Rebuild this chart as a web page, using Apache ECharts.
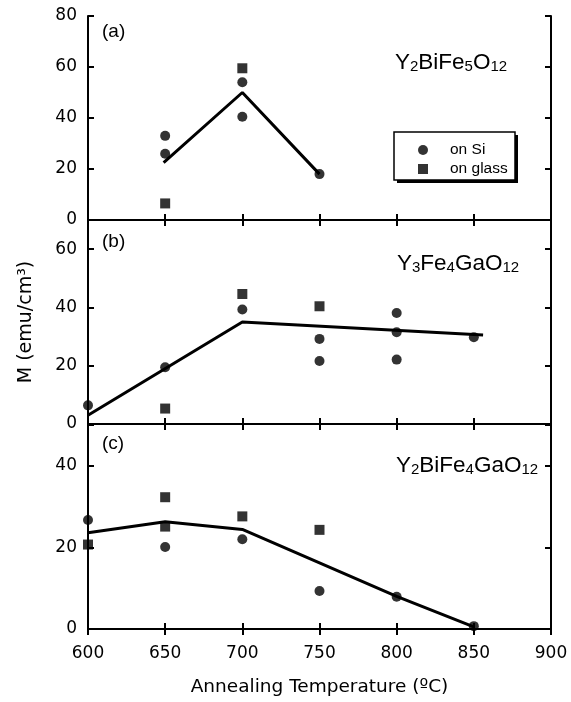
<!DOCTYPE html>
<html><head><meta charset="utf-8">
<script src="https://cdn.jsdelivr.net/npm/echarts@6/dist/echarts.min.js"></script>
<style>html,body{margin:0;padding:0;background:#fff}#c{width:571px;height:702px}</style>
</head><body><div id="c"></div>
<script>
// x ticks
const xTicks = [600, 650, 700, 750, 800, 850, 900];
// Panel (a) Y2BiFe5O12
const aSi = [[650,33],[650,26],[700,54],[700,40.5],[750,18]];
const aGlass = [[650,6.5],[700,59.5]];
const aFit = [[649,22.5],[700,50],[750,18]];
// Panel (b) Y3Fe4GaO12
const bSi = [[600,6.4],[650,19.5],[700,39.3],[750,29.2],[750,21.6],[800,38.1],[800,31.5],[800,22.1],[850,29.8]];
const bGlass = [[650,5.3],[700,44.6],[750,40.4]];
const bFit = [[600,3],[700,35],[856,30.5]];
// Panel (c) Y2BiFe4GaO12
const cSi = [[600,26.7],[650,20.1],[700,22],[750,9.3],[800,7.9],[850,0.7]];
const cGlass = [[600,20.7],[650,32.3],[650,25.1],[700,27.6],[750,24.3]];
const cFit = [[600,23.6],[650,26.3],[700,24.4],[800,8],[850,0.5]];
// y ranges
const yMax = [80, 70, 50];

const FONT = '"Liberation Sans", Arial, Helvetica, sans-serif';
const WFONT = '"DejaVu Sans", Verdana, sans-serif';
const chart = echarts.init(document.getElementById('c'), null, {renderer:'canvas'});
const grids = [{top:16},{top:220},{top:425}].map(g => ({left:88, right:20, top:g.top, height:204}));
const axisLine = {show:true, lineStyle:{color:'#000', width:2}};
const tick = {show:true, inside:true, length:6, lineStyle:{color:'#000', width:2}};
const xAxes = [], yAxes = [];
for (let i = 0; i < 3; i++) {
  xAxes.push({type:'value', gridIndex:i, position:'bottom', min:xTicks[0], max:xTicks[xTicks.length-1], interval:50,
    axisLine, axisTick:tick, splitLine:{show:false},
    axisLabel:{show:i===2, color:'#000', fontSize:17, fontFamily:WFONT, margin:16},
    name: i===2 ? 'Annealing Temperature (ºC)' : '', nameLocation:'middle', nameGap:49,
    nameTextStyle:{color:'#000', fontSize:18.5, fontFamily:WFONT}});
  xAxes.push({type:'value', gridIndex:i, position:'top', min:xTicks[0], max:xTicks[xTicks.length-1], interval:50,
    axisLine, axisTick:tick, splitLine:{show:false}, axisLabel:{show:false}});
  yAxes.push({type:'value', gridIndex:i, position:'left', min:0, max:yMax[i], interval:20,
    axisLine, axisTick:tick, splitLine:{show:false},
    axisLabel:{color:'#000', fontSize:17, fontFamily:WFONT, margin:11,
      formatter: v => (v % 20 === 0 && !(i>0 && v===yMax[i])) ? String(v) : ''},
    name: i===1 ? 'M (emu/cm³)' : '', nameLocation:'middle', nameGap:52, nameRotate:90,
    nameTextStyle:{color:'#000', fontSize:19, fontFamily:WFONT}});
  yAxes.push({type:'value', gridIndex:i, position:'right', min:0, max:yMax[i], interval:20,
    axisLine, axisTick:tick, splitLine:{show:false}, axisLabel:{show:false}});
}
const siData = [aSi, bSi, cSi], glassData = [aGlass, bGlass, cGlass], fitData = [aFit, bFit, cFit];
const series = [];
for (let i = 0; i < 3; i++) {
  series.push({type:'line', name:'fit'+i, xAxisIndex:2*i, yAxisIndex:2*i, data:fitData[i], symbol:'none',
    lineStyle:{color:'#000', width:3}, z:2, clip:false});
  series.push({type:'scatter', name:'on Si', xAxisIndex:2*i, yAxisIndex:2*i, data:siData[i], symbol:'circle', symbolSize:10,
    itemStyle:{color:'#000'}, z:3, clip:false});
  series.push({type:'scatter', name:'on glass', xAxisIndex:2*i, yAxisIndex:2*i, data:glassData[i], symbol:'rect', symbolSize:10,
    itemStyle:{color:'#000'}, z:3, clip:false});
}
function formula(parts) {
  return parts.map(p => (/^\d+$/.test(p) ? '{s|' + p + '}' : '{m|' + p + '}')).join('');
}
const rich = {m:{fontSize:22.5, fontFamily:FONT, color:'#000', lineHeight:24, verticalAlign:'bottom'},
              s:{fontSize:15, fontFamily:FONT, color:'#000', lineHeight:18, verticalAlign:'bottom'}};
const labels = [
  {x:102, y:33, t:'(a)'}, {x:102, y:243, t:'(b)'}, {x:102, y:445, t:'(c)'}
];
const formulas = [
  {x:395, y:63, f:['Y','2','BiFe','5','O','12']},
  {x:397, y:264, f:['Y','3','Fe','4','GaO','12']},
  {x:396, y:466, f:['Y','2','BiFe','4','GaO','12']}
];
const graphic = [];
labels.forEach(l => graphic.push({type:'text', left:l.x, top:l.y-11, style:{text:l.t, font:'19px ' + FONT, fill:'#000'}}));
formulas.forEach(f => graphic.push({type:'text', left:f.x, top:f.y-12, style:{text:formula(f.f), rich, fill:'#000'}}));
// legend frame with hard drop shadow
graphic.push({type:'rect', z:5, shape:{x:397, y:135, width:121, height:48}, style:{fill:'#000'}});
graphic.push({type:'rect', z:6, shape:{x:394, y:132, width:121, height:48}, style:{fill:'#fff', stroke:'#000', lineWidth:1.5}});
chart.setOption({
  animation:false,
  grid:grids, xAxis:xAxes, yAxis:yAxes, series, graphic,
  legend:{data:[{name:'on Si', icon:'circle'},{name:'on glass', icon:'rect'}], orient:'vertical', left:418, top:142,
    itemWidth:10, itemHeight:10, itemGap:3, padding:0, z:10,
    textStyle:{color:'#000', fontSize:15.5, fontFamily:FONT, padding:[0,0,0,17]}, selectedMode:false}
});
</script></body></html>
